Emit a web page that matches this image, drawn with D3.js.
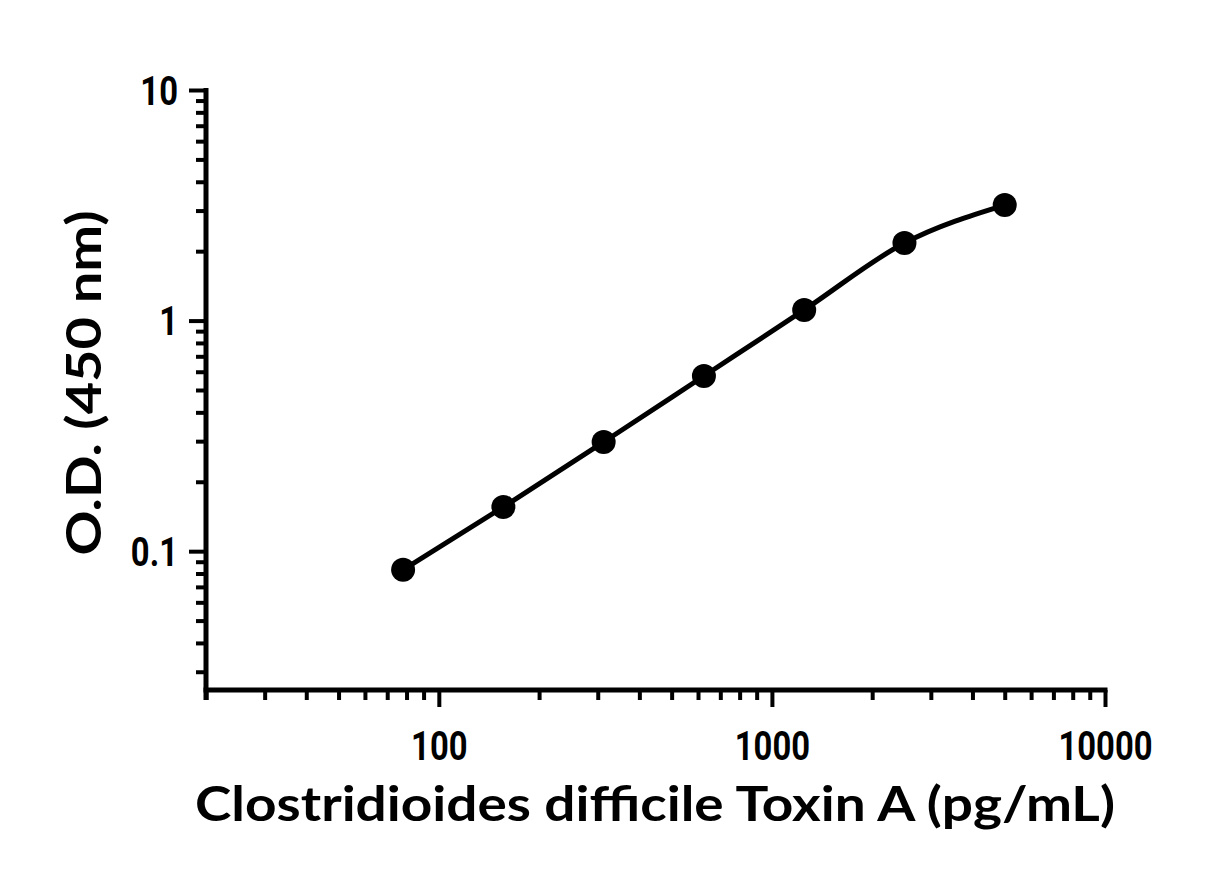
<!DOCTYPE html>
<html>
<head>
<meta charset="utf-8">
<script src="https://cdn.jsdelivr.net/npm/d3@7"></script>
<style>
  html, body { margin: 0; padding: 0; background: #fff; }
  svg { display: block; }
  .ticklab { font-family: Roboto, "Liberation Sans", Arial, sans-serif; font-weight: bold; font-size: 40px; fill: #000; }
  .title { font-family: Lato, "DejaVu Sans", sans-serif; font-weight: bold; font-size: 48px; fill: #000; }
</style>
</head>
<body>
<svg id="chart" width="1230" height="870"></svg>
<script>
// Data
const concentrations = [78.125, 156.25, 312.5, 625, 1250, 2500, 5000]; // pg/mL
const odValues = [0.083, 0.1555, 0.2975, 0.575, 1.112, 2.17, 3.17];   // O.D. 450 nm
const xTickLabels = [100, 1000, 10000];
const yTickLabels = [0.1, 1, 10];
const xTitle = "Clostridioides difficile Toxin A (pg/mL)";
const yTitle = "O.D. (450 nm)";

const svg = d3.select("#chart");

const x = d3.scaleLog().domain([20, 10000]).range([206, 1105]);
const y = d3.scaleLog().domain([0.025, 10]).range([690, 90]);

const sx = 0.82; // horizontal condensing of tick labels

// minor ticks
const xMinor = x.ticks().filter(v => !xTickLabels.includes(v));
const yMinor = y.ticks().filter(v => !yTickLabels.some(t => Math.abs(t - v) < 1e-9));

const axisW = 5;

// X axis
const gx = svg.append("g").attr("transform", "translate(0,690)");
gx.call(d3.axisBottom(x).tickValues(xMinor).tickSize(10).tickFormat(""))
  .call(g => g.select(".domain").remove());
gx.append("g").call(d3.axisBottom(x).tickValues(xTickLabels).tickSize(17).tickFormat(d3.format("d")))
  .call(g => g.select(".domain").remove())
  .call(g => g.attr("font-family", null).attr("font-size", null))
  .call(g => g.selectAll("text").attr("dy", null).attr("y", 70).attr("class", "ticklab")
     .attr("transform", `scale(${sx},1)`));
gx.selectAll("line").attr("stroke", "#000").attr("stroke-width", 4);
gx.append("line").attr("x1", x(20) - 2.5).attr("x2", x(10000) + 2.5).attr("y1", 0).attr("y2", 0)
  .attr("stroke", "#000").attr("stroke-width", axisW);

// Y axis
const gy = svg.append("g").attr("transform", "translate(206,0)");
gy.call(d3.axisLeft(y).tickValues(yMinor).tickSize(10).tickFormat(""))
  .call(g => g.select(".domain").remove());
gy.append("g").call(d3.axisLeft(y).tickValues(yTickLabels).tickSize(17).tickFormat(d => d3.format("~g")(d)))
  .call(g => g.select(".domain").remove())
  .call(g => g.attr("font-family", null).attr("font-size", null))
  .call(g => g.selectAll("text").attr("x", -28 / sx).attr("dy", "0.36em").attr("class", "ticklab")
     .attr("transform", `scale(${sx},1)`));
gy.selectAll("line").attr("stroke", "#000").attr("stroke-width", 4);
gy.append("line").attr("x1", 0).attr("x2", 0).attr("y1", y(10) - 2).attr("y2", 700)
  .attr("stroke", "#000").attr("stroke-width", axisW);

// curve
const pts = concentrations.map((c, i) => [c, odValues[i]]);
const line = d3.line().x(d => x(d[0])).y(d => y(d[1])).curve(d3.curveMonotoneX);
svg.append("path").datum(pts).attr("d", line)
  .attr("fill", "none").attr("stroke", "#000").attr("stroke-width", 5);

// points
svg.selectAll("circle.pt").data(pts).enter().append("circle")
  .attr("class", "pt")
  .attr("cx", d => x(d[0])).attr("cy", d => y(d[1])).attr("r", 12)
  .attr("fill", "#000");

// titles
svg.append("text").text(xTitle).attr("class", "title")
  .attr("x", 655).attr("y", 821).attr("text-anchor", "middle")
  .attr("textLength", 920).attr("lengthAdjust", "spacingAndGlyphs");

svg.append("text").text(yTitle).attr("class", "title")
  .attr("transform", "translate(101,383) rotate(-90)").attr("text-anchor", "middle")
  .attr("textLength", 345).attr("lengthAdjust", "spacingAndGlyphs");
</script>
</body>
</html>
